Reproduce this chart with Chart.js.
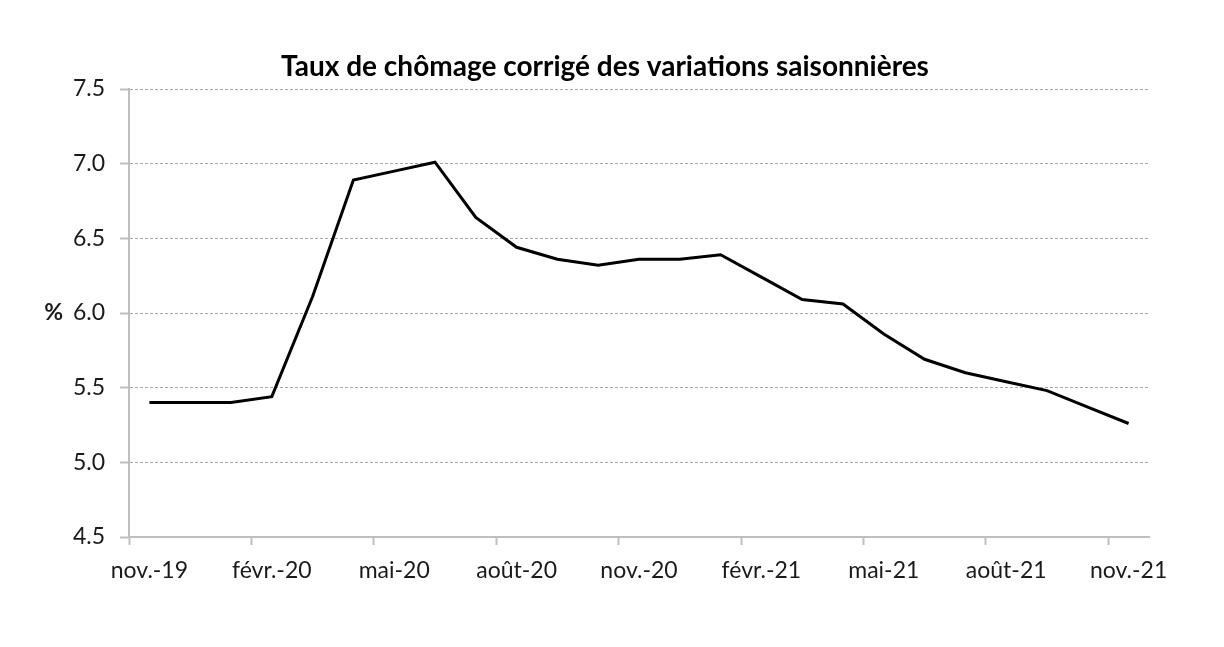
<!DOCTYPE html>
<html>
<head>
<meta charset="utf-8">
<script src="https://cdn.jsdelivr.net/npm/chart.js@4"></script>
<style>
  html, body { margin: 0; padding: 0; background: #fff; }
  #wrap { width: 1224px; height: 647px; }
</style>
</head>
<body>
<div id="wrap"><canvas id="chomage"></canvas></div>
<script>
// mois de nov.-19 à nov.-21
const months = ['nov.-19', 'déc.-19', 'janv.-20', 'févr.-20', 'mars-20', 'avr.-20', 'mai-20', 'juin-20',
    'juil.-20', 'août-20', 'sept.-20', 'oct.-20', 'nov.-20', 'déc.-20', 'janv.-21', 'févr.-21',
    'mars-21', 'avr.-21', 'mai-21', 'juin-21', 'juil.-21', 'août-21', 'sept.-21', 'oct.-21', 'nov.-21'];
// taux de chômage CVS (%)
const tauxChomage = [5.40, 5.40, 5.40, 5.44, 6.11, 6.89, 6.95, 7.01,
    6.64, 6.44, 6.36, 6.32, 6.36, 6.36, 6.39, 6.24,
    6.09, 6.06, 5.86, 5.69, 5.60, 5.54, 5.48, 5.37, 5.26];
const yTicks = [4.5, 5.0, 5.5, 6.0, 6.5, 7.0, 7.5];
const chartTitle = 'Taux de chômage corrigé des variations saisonnières';

const axisGrey = '#bfbfbf';
const textColor = '#1a1a1a';
const fontFamily = 'Lato, "Open Sans", sans-serif';

// titre et "%" dessinés à la main (le titre est centré sur toute la page)
const extraText = {
    id: 'extraText',
    afterDraw(chart) {
        const ctx = chart.ctx;
        ctx.save();
        ctx.fillStyle = '#000';
        ctx.textBaseline = 'middle';
        ctx.textAlign = 'center';
        ctx.font = 'bold 28px ' + fontFamily;
        ctx.fillText(chartTitle, 605, 67);

        const y = chart.scales.y.getPixelForValue(6.0);
        ctx.font = 'bold 23px ' + fontFamily;
        ctx.fillStyle = textColor;
        ctx.textAlign = 'right';
        ctx.fillText('%', 63, y);
        ctx.restore();
    }
};

new Chart(document.getElementById('chomage').getContext('2d'), {
    type: 'line',
    data: {
        labels: months,
        datasets: [{
            label: 'Taux de chômage',
            data: tauxChomage,
            borderColor: '#000',
            borderWidth: 3,
            pointRadius: 0,
            tension: 0,
            fill: false
        }]
    },
    options: {
        responsive: true,
        maintainAspectRatio: false,
        animation: false,
        layout: { padding: { left: 0, right: 75, top: 89, bottom: 0 } },
        plugins: {
            legend: { display: false },
            tooltip: { enabled: false },
            title: { display: false }
        },
        scales: {
            x: {
                type: 'category',
                offset: true,
                afterFit: scale => { scale.height = 110; },
                grid: {
                    offset: true,
                    drawOnChartArea: false,
                    drawTicks: true,
                    tickLength: 8,
                    tickWidth: 2,
                    tickColor: ctx => (ctx.index % 3 === 0 ? axisGrey : 'rgba(0,0,0,0)')
                },
                border: { display: true, color: axisGrey, width: 2 },
                ticks: {
                    autoSkip: false,
                    maxRotation: 0,
                    padding: 12,
                    color: textColor,
                    font: { family: fontFamily, size: 23 },
                    callback: function (value, index) {
                        return index % 3 === 0 ? this.getLabelForValue(value) : '';
                    }
                }
            },
            y: {
                min: 4.5,
                max: 7.5,
                afterFit: scale => { scale.width = 129; },
                afterBuildTicks: scale => { scale.ticks = yTicks.map(v => ({ value: v })); },
                grid: {
                    color: '#a6a6a6',
                    lineWidth: 1,
                    tickLength: 9,
                    tickWidth: 2,
                    tickColor: axisGrey,
                    tickBorderDash: []
                },
                border: { display: true, color: axisGrey, width: 2, dash: [3, 2] },
                ticks: {
                    padding: 15,
                    color: textColor,
                    font: { family: fontFamily, size: 23 },
                    callback: value => value.toFixed(1)
                }
            }
        }
    },
    plugins: [extraText]
});
</script>
</body>
</html>
